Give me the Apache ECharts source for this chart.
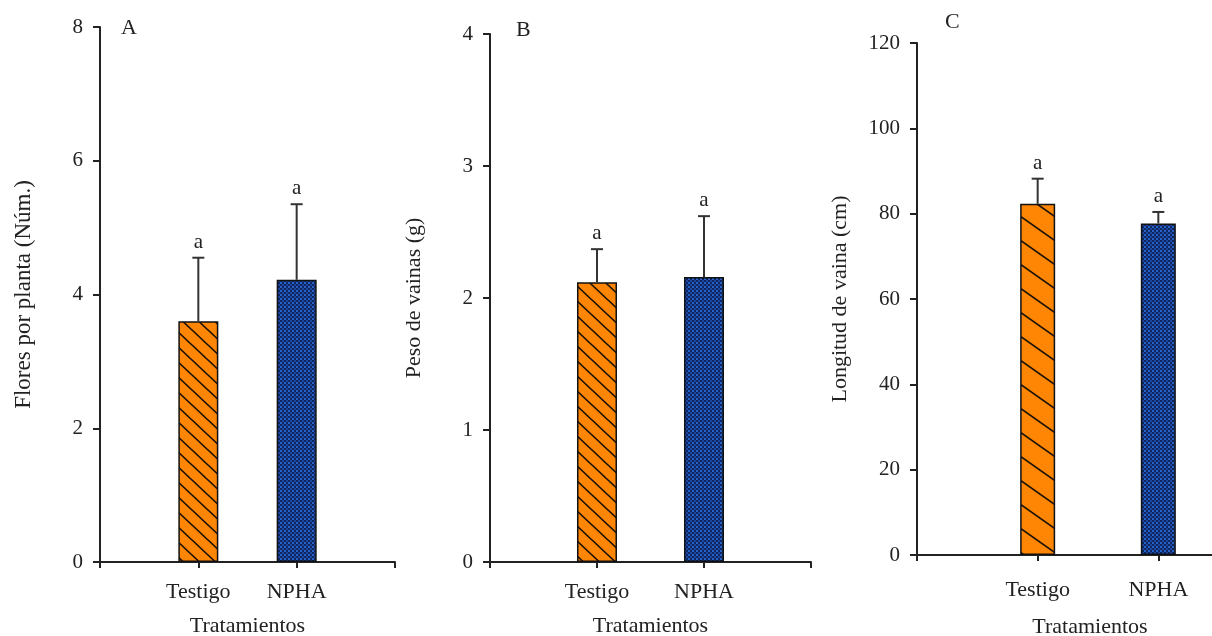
<!DOCTYPE html>
<html>
<head>
<meta charset="utf-8">
<script src="https://cdn.jsdelivr.net/npm/echarts@6/dist/echarts.min.js"></script>
<style>
html,body{margin:0;padding:0;background:#fff;}
#chart{width:1212px;height:636px;}
</style>
</head>
<body>
<div id="chart"></div>
<script>
// ---- data ----
const categories = ['Testigo', 'NPHA'];
const floresMean = [3.6, 4.22];
const floresErr = [0.95, 1.13];
const pesoMean = [2.12, 2.16];
const pesoErr = [0.25, 0.46];
const longitudMean = [82.3, 77.7];
const longitudErr = [5.9, 2.7];
const letters = ['a', 'a'];
const panelLabels = ['A', 'B', 'C'];
const yNames = ['Flores por planta (Núm.)', 'Peso de vainas (g)', 'Longitud de vaina (cm)'];
const xName = 'Tratamientos';
const yMax = [8, 4, 120];
const yInterval = [2, 1, 20];

const FONT = '"Liberation Serif", "DejaVu Serif", serif';
const AXIS_COLOR = '#222';

function hatchPattern(w, h) {
  const c = document.createElement('canvas');
  c.width = w; c.height = h;
  const g = c.getContext('2d');
  g.fillStyle = '#ff8505';
  g.fillRect(0, 0, w, h);
  g.strokeStyle = '#1a1205';
  g.lineWidth = 1.6;
  g.beginPath();
  g.moveTo(-w, -h); g.lineTo(2 * w, 2 * h);
  g.moveTo(-w, 0); g.lineTo(w, 2 * h);
  g.moveTo(0, -h); g.lineTo(2 * w, h);
  g.stroke();
  return c;
}
function dotPattern() {
  const c = document.createElement('canvas');
  c.width = 4; c.height = 4;
  const g = c.getContext('2d');
  g.fillStyle = '#2a62c8';
  g.fillRect(0, 0, 4, 4);
  g.fillStyle = '#0d2660';
  g.fillRect(0, 0, 2, 2);
  g.fillRect(2, 2, 2, 2);
  g.fillStyle = '#1c46a0';
  g.fillRect(2, 0, 2, 2);
  return c;
}
const hatchAB = hatchPattern(16, 15);
const hatchC = hatchPattern(34, 24);
const dots = dotPattern();

const grids = [
  { left: 100, width: 295, top: 27, bottom: 74, outerBoundsMode: 'none', containLabel: false },
  { left: 490, width: 321, top: 34, bottom: 74, outerBoundsMode: 'none', containLabel: false },
  { left: 917, width: 362, top: 43, bottom: 81, outerBoundsMode: 'none', containLabel: false }
];
const labelMargins = [19, 19, 24];
const nameGapsX = [53, 53, 61];
const namePadX = [[0, 0, 0, 0], [0, 0, 0, 0], [0, 16, 0, 0]];
const nameGapsY = [65, 65, 66];
const nameSizeY = [23, 22, 22];
const barWidths = [40, 40, 35];
const means = [floresMean, pesoMean, longitudMean];
const errs = [floresErr, pesoErr, longitudErr];

const xCats = [''].concat(categories, ['']);

const option = {
  animation: false,
  backgroundColor: '#fff',
  grid: grids,
  xAxis: grids.map((g, i) => ({
    type: 'category',
    gridIndex: i,
    data: xCats,
    boundaryGap: false,
    name: xName,
    nameLocation: 'middle',
    nameGap: nameGapsX[i],
    nameTextStyle: { fontFamily: FONT, fontSize: 22, color: '#222', padding: namePadX[i] },
    axisLine: { lineStyle: { color: AXIS_COLOR, width: 2 } },
    axisTick: { show: true, length: 6, lineStyle: { color: AXIS_COLOR, width: 2 } },
    axisLabel: { fontFamily: FONT, fontSize: 22, color: '#222', margin: labelMargins[i], interval: 0, hideOverlap: false },
    splitLine: { show: false }
  })),
  yAxis: grids.map((g, i) => ({
    type: 'value',
    gridIndex: i,
    min: 0,
    max: yMax[i],
    interval: yInterval[i],
    name: yNames[i],
    nameLocation: 'middle',
    nameGap: nameGapsY[i],
    nameTextStyle: { fontFamily: FONT, fontSize: nameSizeY[i], color: '#222' },
    axisLine: { show: true, lineStyle: { color: AXIS_COLOR, width: 2 } },
    axisTick: { show: true, length: 7, lineStyle: { color: AXIS_COLOR, width: 2 } },
    axisLabel: { fontFamily: FONT, fontSize: 21, color: '#222', margin: 17 },
    splitLine: { show: false }
  })),
  graphic: [
    { type: 'text', left: 121, top: 17, style: { text: panelLabels[0], font: '22px ' + FONT, fill: '#222' } },
    { type: 'text', left: 516, top: 19, style: { text: panelLabels[1], font: '22px ' + FONT, fill: '#222' } },
    { type: 'text', left: 945, top: 11, style: { text: panelLabels[2], font: '22px ' + FONT, fill: '#222' } }
  ],
  series: []
};

for (let p = 0; p < 3; p++) {
  const barData = [null].concat(means[p].map((v, j) => ({
    value: v,
    itemStyle: { color: { image: j === 0 ? (p === 2 ? hatchC : hatchAB) : dots, repeat: 'repeat' } }
  })), [null]);
  option.series.push({
    type: 'bar',
    xAxisIndex: p,
    yAxisIndex: p,
    data: barData,
    barWidth: barWidths[p],
    itemStyle: { borderColor: '#111', borderWidth: 1.5 },
    z: 2
  });
  const errData = means[p].map((v, j) => [j + 1, v, v + errs[p][j], letters[j]]);
  option.series.push({
    type: 'custom',
    xAxisIndex: p,
    yAxisIndex: p,
    data: errData,
    z: 3,
    renderItem: function (params, api) {
      const x = api.value(0);
      const base = api.coord([x, api.value(1)]);
      const top = api.coord([x, api.value(2)]);
      const half = 6;
      const st = { stroke: '#333', lineWidth: 2 };
      return {
        type: 'group',
        children: [
          { type: 'line', shape: { x1: base[0], y1: base[1], x2: top[0], y2: top[1] }, style: st },
          { type: 'line', shape: { x1: top[0] - half, y1: top[1], x2: top[0] + half, y2: top[1] }, style: st },
          { type: 'text', style: { text: errData[params.dataIndex][3], x: top[0], y: top[1] - 5, align: 'center', verticalAlign: 'bottom', font: '21px ' + FONT, fill: '#222' } }
        ]
      };
    }
  });
}

const chart = echarts.init(document.getElementById('chart'));
chart.setOption(option);
</script>
</body>
</html>
